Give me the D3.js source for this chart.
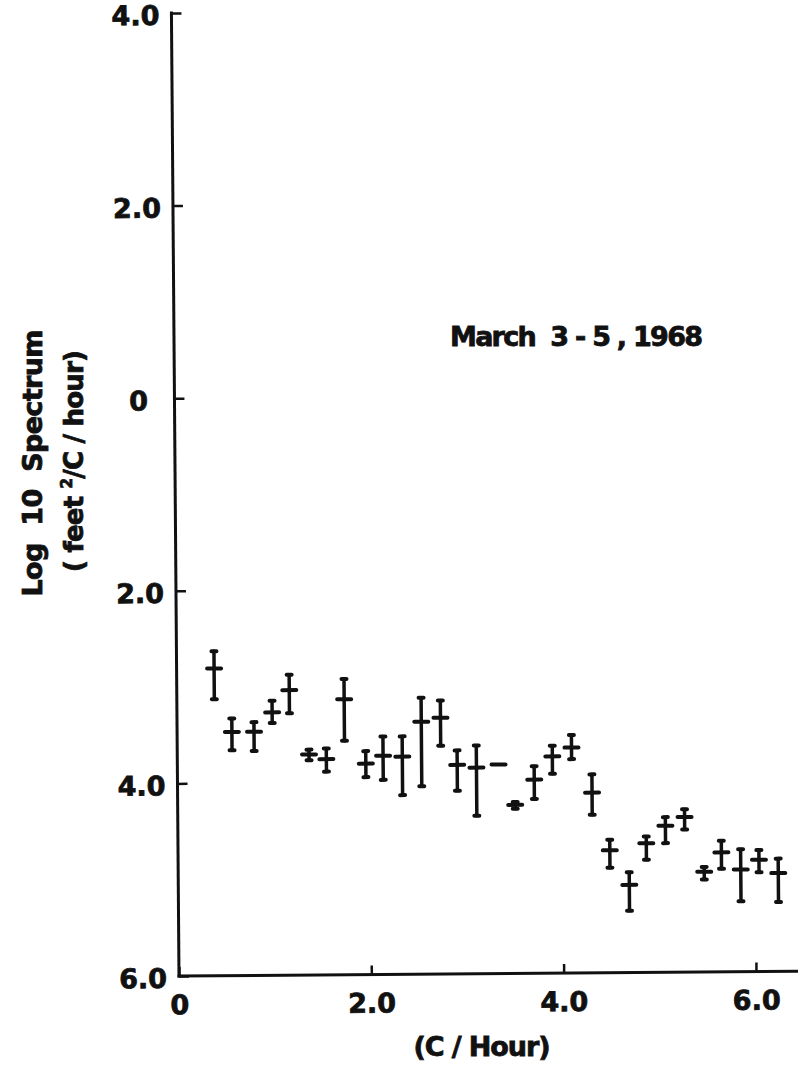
<!DOCTYPE html>
<html>
<head>
<meta charset="utf-8">
<script src="https://cdn.jsdelivr.net/npm/d3@7"></script>
<style>
  html, body { margin: 0; padding: 0; background: #fff; }
  svg { display: block; }
  text { font-family: "DejaVu Sans", "Liberation Sans", sans-serif; font-weight: bold; fill: #111; stroke: #111; stroke-width: 0.8px; }
</style>
</head>
<body>
<script>
// ---- data (frequency in cycles/hour, log10 spectrum values) ----
const freq = [0.39, 0.57, 0.80, 0.99, 1.17, 1.37, 1.55, 1.74, 1.96, 2.14, 2.34, 2.54, 2.74, 2.91, 3.11, 3.34,
              3.51, 3.71, 3.90, 4.10, 4.31, 4.49, 4.69, 4.87, 5.07, 5.27, 5.47, 5.65, 5.85, 6.04, 6.24];
const logSpec = [-2.81, -3.47, -3.47, -3.27, -3.04, -3.71, -3.76, -3.14, -3.81, -3.73, -3.74, -3.38, -3.34, -3.83, -3.86, -3.83,
                 -4.25, -3.99, -3.75, -3.66, -4.13, -4.73, -5.09, -4.66, -4.48, -4.39, -4.96, -4.76, -4.94, -4.84, -4.98];
const upperBound = [-2.63, -3.33, -3.37, -3.15, -2.88, -3.66, -3.65, -2.93, -3.68, -3.53, -3.53, -3.13, -3.16, -3.68, -3.63, -3.83,
                    -4.22, -3.85, -3.64, -3.53, -3.94, -4.62, -4.96, -4.59, -4.39, -4.31, -4.91, -4.64, -4.73, -4.74, -4.83];
const lowerBound = [-3.13, -3.66, -3.67, -3.38, -3.28, -3.77, -3.89, -3.57, -3.95, -3.98, -4.14, -4.05, -3.63, -4.10, -4.36, -3.83,
                    -4.29, -4.19, -3.93, -3.78, -4.36, -4.91, -5.36, -4.83, -4.66, -4.52, -5.04, -4.93, -5.27, -4.97, -5.28];
const xTickValues = [0, 2, 4, 6];
const xTickLabels = ["0", "2.0", "4.0", "6.0"];
const yTickValues = [4, 2, 0, -2, -4, -6];
const yTickLabels = ["4.0", "2.0", "0", "2.0", "4.0", "6.0"];
const titleText = "March  3 - 5 , 1968";
const yTitle1 = "Log  10  Spectrum";
const xTitle = "(C / Hour)";

// ---- drawing ----
const W = 798, H = 1076;
const ink = "#111";
const FONT = '"DejaVu Sans", "Liberation Sans", sans-serif';
const svg = d3.select("body").append("svg").attr("width", W).attr("height", H);

const x = d3.scaleLinear().domain([0, 6]).range([179, 756]);
const y = d3.scaleLinear().domain([-6, 4]).range([976, 13]);

// the scanned figure is slightly rotated
const plot = svg.append("g").attr("transform", "rotate(-0.45, 179, 976)");

// x axis
const xAxis = plot.append("g").attr("transform", `translate(0,${y(-6)})`)
  .call(d3.axisBottom(x).tickValues(xTickValues)
        .tickFormat((d, i) => xTickLabels[i])
        .tickSizeInner(-9).tickSizeOuter(0).tickPadding(19));
xAxis.select(".domain").remove();
xAxis.selectAll(".tick line").attr("stroke", ink).attr("stroke-width", 2.5);
xAxis.selectAll(".tick text").attr("font-size", 27).attr("fill", ink)
  .attr("stroke", ink).attr("stroke-width", 0.8)
  .style("font-family", FONT).style("font-weight", "bold");

// y axis
const yAxis = plot.append("g").attr("transform", `translate(${x(0)},0)`)
  .call(d3.axisLeft(y).tickValues(yTickValues)
        .tickFormat((d, i) => yTickLabels[i])
        .tickSizeInner(-10).tickSizeOuter(0).tickPadding(36));
yAxis.select(".domain").remove();
yAxis.selectAll(".tick line").attr("stroke", ink).attr("stroke-width", 2.5);
yAxis.selectAll(".tick text").attr("font-size", 27).attr("fill", ink)
  .attr("stroke", ink).attr("stroke-width", 0.8)
  .attr("text-anchor", "middle").attr("dy", "0.42em")
  .style("font-family", FONT).style("font-weight", "bold");

// axis lines
plot.append("line").attr("x1", x(0)).attr("x2", x(0))
  .attr("y1", y(4) - 1.5).attr("y2", y(-6) + 1.5)
  .attr("stroke", ink).attr("stroke-width", 3);
plot.append("line").attr("x1", x(0) - 1.5).attr("x2", x(6.6))
  .attr("y1", y(-6)).attr("y2", y(-6))
  .attr("stroke", ink).attr("stroke-width", 3);

// error bars
const bars = plot.append("g").attr("stroke", ink).attr("stroke-linecap", "round");
freq.forEach((f, i) => {
  const cx = x(f);
  const g = bars.append("g");
  if (upperBound[i] !== lowerBound[i]) {
    g.append("line").attr("x1", cx).attr("x2", cx)
      .attr("y1", y(upperBound[i])).attr("y2", y(lowerBound[i]))
      .attr("stroke-width", 3.5);
    [upperBound[i], lowerBound[i]].forEach(v => {
      g.append("line").attr("x1", cx - 2.5).attr("x2", cx + 2.5)
        .attr("y1", y(v)).attr("y2", y(v)).attr("stroke-width", 4);
    });
  }
  g.append("line").attr("x1", cx - 7).attr("x2", cx + 7)
    .attr("y1", y(logSpec[i])).attr("y2", y(logSpec[i]))
    .attr("stroke-width", 4);
});

// titles
svg.append("text").attr("x", 450).attr("y", 346)
  .attr("font-size", 27).attr("textLength", 253).attr("lengthAdjust", "spacing")
  .style("white-space", "pre").text(titleText);

svg.append("text").attr("transform", "translate(42,463) rotate(-90)")
  .attr("text-anchor", "middle").attr("font-size", 27)
  .attr("textLength", 267).attr("lengthAdjust", "spacing")
  .style("white-space", "pre").text(yTitle1);

const yt2 = svg.append("text").attr("transform", "translate(83,461) rotate(-90)")
  .attr("text-anchor", "middle").attr("font-size", 26)
  .attr("textLength", 222).attr("lengthAdjust", "spacing")
  .style("white-space", "pre");
yt2.append("tspan").text("( feet ");
yt2.append("tspan").attr("font-size", 15).attr("dy", -11).text("2");
yt2.append("tspan").attr("dy", 11).text("/C / hour)");

svg.append("text").attr("x", 482).attr("y", 1056)
  .attr("text-anchor", "middle").attr("font-size", 27)
  .attr("textLength", 137).attr("lengthAdjust", "spacing")
  .style("white-space", "pre").text(xTitle);
</script>
</body>
</html>
